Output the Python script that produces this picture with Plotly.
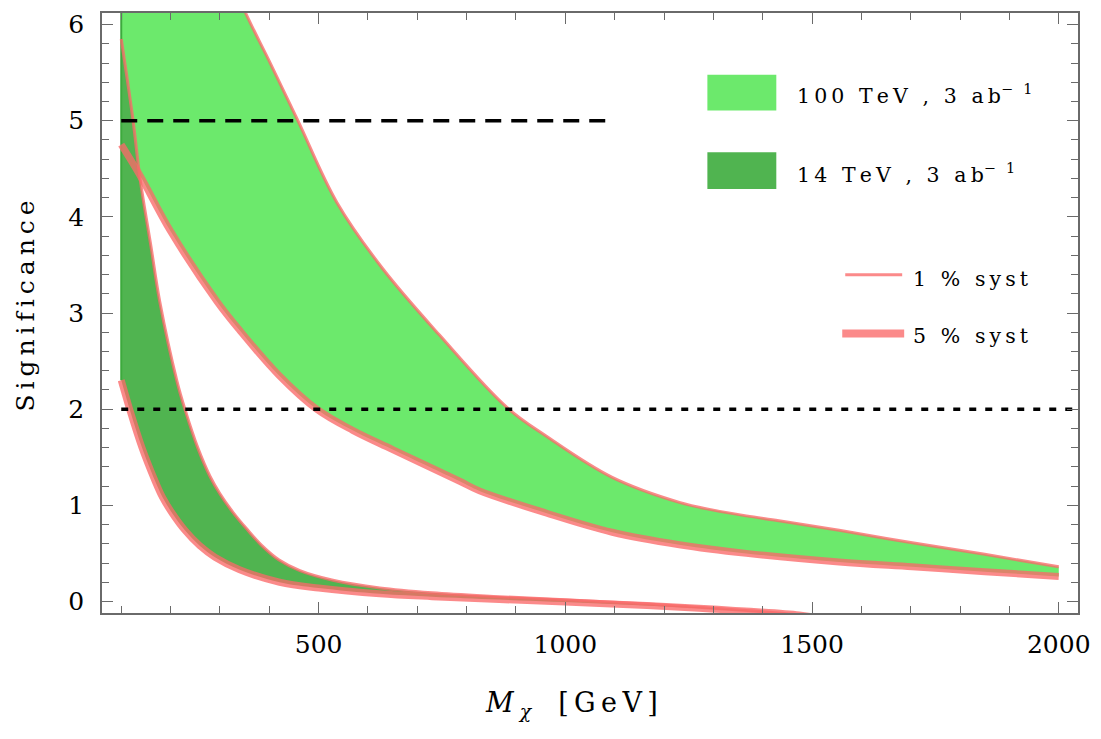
import plotly.graph_objects as go

# ---------------- data ----------------
mass_100_up = [100, 200, 300, 352, 400, 458, 537, 630, 745, 881, 961, 1095, 1231, 1300, 1367, 1433, 1555, 1703, 1850, 2000]
sig_100_up = [10.0, 8.3, 6.75, 6.12, 5.62, 5.0, 4.15, 3.46, 2.77, 2.02, 1.72, 1.29, 1.03, 0.95, 0.89, 0.84, 0.74, 0.61, 0.49, 0.36]

mass_100_lo = [100, 138, 200, 294, 340, 420, 496, 569, 650, 786, 826, 961, 1095, 1231, 1367, 1555, 1703, 1850, 2000]
sig_100_lo = [4.75, 4.43, 3.85, 3.12, 2.82, 2.35, 2.0, 1.78, 1.58, 1.25, 1.15, 0.92, 0.72, 0.59, 0.50, 0.41, 0.36, 0.31, 0.26]

mass_14_up = [100, 124, 138, 160, 178, 213, 229, 255, 280, 300, 326, 355, 385, 420, 462, 529, 624, 730, 866, 1069, 1271, 1474, 1500]
sig_14_up = [5.85, 5.0, 4.4, 3.7, 3.12, 2.29, 2.0, 1.6, 1.30, 1.12, 0.93, 0.75, 0.58, 0.43, 0.32, 0.22, 0.14, 0.09, 0.05, 0.0, -0.06, -0.14, -0.16]

mass_14_lo = [100, 117, 142, 168, 184, 203, 229, 259, 290, 340, 421, 500, 624, 730, 866, 1069, 1271, 1474, 1500]
sig_14_lo = [2.3, 2.0, 1.6, 1.26, 1.08, 0.92, 0.74, 0.58, 0.46, 0.33, 0.20, 0.14, 0.08, 0.05, 0.02, -0.02, -0.07, -0.14, -0.16]

threshold_5sigma = 5
threshold_2sigma = 2
mass_5sigma_line = [100, 1100]
mass_2sigma_line = [100, 2040]

x_tick_vals = [500, 1000, 1500, 2000]
x_tick_text = ["500", "1000", "1500", "2000"]
y_tick_vals = [0, 1, 2, 3, 4, 5, 6]

legend_labels = ["100 TeV , 3 ab", "14 TeV , 3 ab", "1 % syst", "5 % syst"]

# ---------------- styling ----------------
LIGHT = "#6CE96C"
DARK = "#50B450"
RED = "rgba(250,105,105,0.78)"
FONT = "DejaVu Serif"
FRAME = "#6a6a6a"
THIN = "\u2009"
SPL = dict(shape="spline", smoothing=1.0)


def sp(s, gap=THIN):
    return gap.join(s)


fig = go.Figure()

# bands (lower edge first, then upper edge filled down to it)
fig.add_trace(go.Scatter(x=mass_100_lo, y=sig_100_lo, mode="lines", line=dict(width=0, **SPL),
                         hoverinfo="skip", showlegend=False))
fig.add_trace(go.Scatter(x=mass_100_up, y=sig_100_up, mode="lines", line=dict(width=0, **SPL),
                         fill="tonexty", fillcolor=LIGHT, hoverinfo="skip", showlegend=False))
fig.add_trace(go.Scatter(x=mass_14_lo, y=sig_14_lo, mode="lines", line=dict(width=0, **SPL),
                         hoverinfo="skip", showlegend=False))
fig.add_trace(go.Scatter(x=mass_14_up, y=sig_14_up, mode="lines", line=dict(width=0, **SPL),
                         fill="tonexty", fillcolor=DARK, hoverinfo="skip", showlegend=False))
# left fill edge
fig.add_trace(go.Scatter(x=[mass_14_lo[0], mass_100_up[0]], y=[sig_14_lo[0], sig_100_up[0]],
                         mode="lines", line=dict(color="#3DAA3D", width=2), showlegend=False,
                         hoverinfo="skip"))

# boundary lines
fig.add_trace(go.Scatter(x=mass_100_lo, y=sig_100_lo, mode="lines", line=dict(color=RED, width=7, **SPL),
                         showlegend=False))
fig.add_trace(go.Scatter(x=mass_100_up, y=sig_100_up, mode="lines", line=dict(color=RED, width=3, **SPL),
                         showlegend=False))
fig.add_trace(go.Scatter(x=mass_14_lo, y=sig_14_lo, mode="lines", line=dict(color=RED, width=7, **SPL),
                         showlegend=False))
fig.add_trace(go.Scatter(x=mass_14_up, y=sig_14_up, mode="lines", line=dict(color=RED, width=3, **SPL),
                         showlegend=False))

# threshold lines
fig.add_trace(go.Scatter(x=mass_5sigma_line, y=[threshold_5sigma] * 2, mode="lines",
                         line=dict(color="black", width=3.5, dash="16px,10px"), showlegend=False))
fig.add_trace(go.Scatter(x=mass_2sigma_line, y=[threshold_2sigma] * 2, mode="lines",
                         line=dict(color="black", width=3.5, dash="7px,9px"), showlegend=False))

axis_common = dict(showline=True, linecolor=FRAME, linewidth=1.5, mirror="ticks",
                   ticks="inside", tickcolor=FRAME, tickwidth=1.2, ticklen=11,
                   showgrid=False, zeroline=False,
                   tickfont=dict(family=FONT, size=25, color="black"))

fig.update_xaxes(range=[61, 2039], tickvals=x_tick_vals, ticktext=x_tick_text,
                 minor=dict(dtick=100, tick0=0, ticks="inside", ticklen=7, tickcolor=FRAME, tickwidth=1.2),
                 ticklabelstandoff=8, **axis_common)
fig.update_yaxes(range=[-0.12, 6.12], tickvals=y_tick_vals,
                 minor=dict(dtick=0.2, tick0=0, ticks="inside", ticklen=7, tickcolor=FRAME, tickwidth=1.2),
                 ticklabelstandoff=11, **axis_common)

L, R, T, B = 102, 22, 10, 126
PW, PH = 1101 - L - R, 739 - T - B


def px(x):
    return (x - L) / PW


def py(y):
    return (739 - B - y) / PH


shapes = [
    dict(type="rect", xref="paper", yref="paper", x0=px(708), x1=px(777), y0=py(108), y1=py(72),
         fillcolor=LIGHT, line=dict(width=0)),
    dict(type="rect", xref="paper", yref="paper", x0=px(708), x1=px(777), y0=py(187), y1=py(150),
         fillcolor=DARK, line=dict(width=0)),
    dict(type="line", xref="paper", yref="paper", x0=px(846), x1=px(903), y0=py(273), y1=py(273),
         line=dict(color=RED, width=3)),
    dict(type="line", xref="paper", yref="paper", x0=px(843), x1=px(905), y0=py(332), y1=py(332),
         line=dict(color=RED, width=8)),
]

lf = dict(family=FONT, size=20.5, color="black")
sf = dict(family=FONT, size=20.5, color="black")
annotations = [
    dict(xref="paper", yref="paper", x=px(796), y=py(92), xanchor="left", yanchor="middle", showarrow=False,
         text=sp(legend_labels[0]) + "<sup>" + sp("− 1") + "</sup>", font=lf),
    dict(xref="paper", yref="paper", x=px(796), y=py(171), xanchor="left", yanchor="middle", showarrow=False,
         text=sp(legend_labels[1]) + "<sup>" + sp("− 1") + "</sup>", font=lf),
    dict(xref="paper", yref="paper", x=px(912), y=py(277), xanchor="left", yanchor="middle", showarrow=False,
         text=sp(legend_labels[2]), font=sf),
    dict(xref="paper", yref="paper", x=px(912), y=py(335), xanchor="left", yanchor="middle", showarrow=False,
         text=sp(legend_labels[3]), font=sf),
    # axis titles
    dict(xref="paper", yref="paper", x=px(25), y=py(305), xanchor="center", yanchor="middle", showarrow=False,
         textangle=-90, text=sp("Significance"), font=dict(family=FONT, size=25, color="black")),
    dict(xref="paper", yref="paper", x=px(572), y=py(705), xanchor="center", yanchor="middle", showarrow=False,
         text="<i>M</i><sub> <i>χ</i></sub>" + "\u2003" + sp("[GeV]"), font=dict(family=FONT, size=27, color="black")),
]

fig.update_layout(width=1101, height=739, margin=dict(l=L, r=R, t=T, b=B),
                  plot_bgcolor="white", paper_bgcolor="white",
                  shapes=shapes, annotations=annotations, showlegend=False)

fig.write_html("out.html", config={"displayModeBar": False},
               post_script="document.body.style.margin='0';document.body.style.overflow='hidden';")
